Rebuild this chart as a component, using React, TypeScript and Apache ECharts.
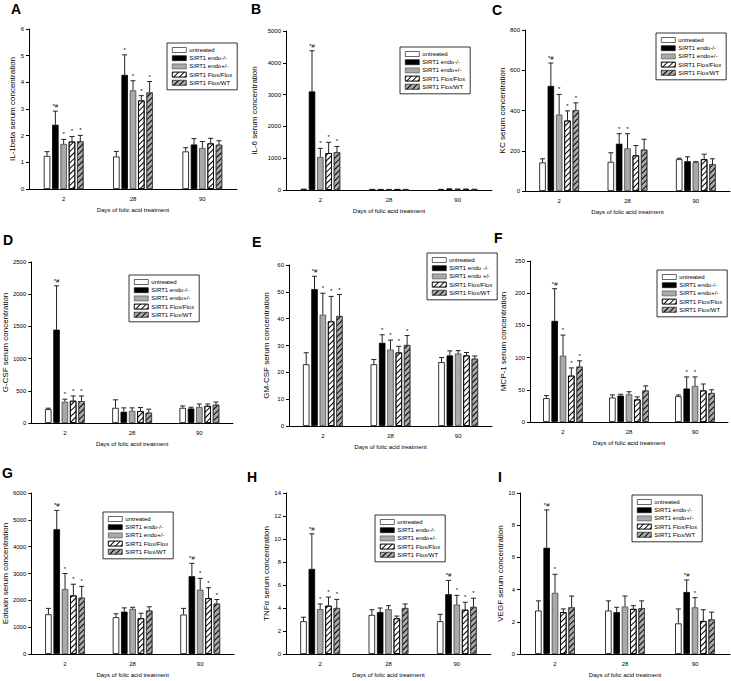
import React, { useEffect, useRef } from "react";
import * as echarts from "echarts";

// ---------- data ----------
const DAYS = ["2", "28", "90"];
const GROUPS = ["untreated", "SIRT1 endo-/-", "SIRT1 endo+/-", "SIRT1 Flox/Flox", "SIRT1 Flox/WT"];
const GROUPS_E = ["untreated", "SIRT1 endo -/-", "SIRT1 endo +/-", "SIRT1 Flox/Flox", "SIRT1 Flox/WT"];

// rows: untreated, endo-/-, endo+/-, Flox/Flox, Flox/WT ; columns: day 2, 28, 90
const IL1B_MEAN = [[1.24, 1.22, 1.41], [2.41, 4.28, 1.67], [1.69, 3.7, 1.54], [1.78, 3.32, 1.71], [1.79, 3.62, 1.66]];
const IL1B_CAP = [[1.4, 1.41, 1.55], [2.92, 5.03, 1.89], [1.86, 4.06, 1.78], [1.97, 3.5, 1.9], [2.01, 4.03, 1.81]];
const IL1B_MARK = [["", "", ""], ["*#", "*", ""], ["*", "*", ""], ["*", "*", ""], ["*", "*", ""]];

const IL6_MEAN = [[20, 15, 15], [3100, 15, 30], [1040, 15, 25], [1160, 15, 25], [1190, 15, 20]];
const IL6_CAP = [[28, 20, 20], [4380, 20, 40], [1310, 20, 32], [1500, 20, 32], [1370, 20, 25]];
const IL6_MARK = [["", "", ""], ["*#", "", ""], ["*", "", ""], ["*", "", ""], ["*", "", ""]];

const KC_MEAN = [[142, 145, 158], [522, 235, 148], [380, 212, 143], [350, 177, 158], [402, 206, 133]];
const KC_CAP = [[160, 190, 163], [636, 285, 170], [480, 285, 146], [398, 226, 183], [438, 257, 160]];
const KC_MARK = [["", "", ""], ["*#", "*", ""], ["*", "*", ""], ["*", "", ""], ["*", "", ""]];

const GCSF_MEAN = [[215, 235, 235], [1450, 175, 225], [330, 190, 250], [345, 185, 265], [340, 160, 285]];
const GCSF_CAP = [[230, 360, 265], [2130, 235, 245], [370, 235, 295], [420, 240, 295], [420, 215, 325]];
const GCSF_MARK = [["", "", ""], ["*#", "", ""], ["*", "", ""], ["*", "", ""], ["*", "", ""]];

const GMCSF_MEAN = [[23, 23, 23.8], [51, 31, 26.3], [41.5, 28.5, 27], [39, 27.4, 26.3], [41, 30.2, 25.1]];
const GMCSF_CAP = [[27.3, 24.8, 25.5], [55.8, 34, 28], [49.5, 32, 28.1], [48.3, 29.7, 27.4], [49, 33.7, 26.1]];
const GMCSF_MARK = [["", "", ""], ["*#", "*", ""], ["*", "*", ""], ["*", "*", ""], ["*", "*", ""]];

const MCP1_MEAN = [[37, 38, 40], [157, 41, 52], [103, 43, 56], [72, 35, 49], [86, 49, 45]];
const MCP1_CAP = [[41, 42, 42], [207, 43, 70], [135, 47, 70], [84, 39, 59], [95, 56, 50]];
const MCP1_MARK = [["", "", ""], ["*#", "", "*"], ["*", "", "*"], ["*", "", ""], ["*", "", ""]];

const EOT_MEAN = [[1480, 1370, 1470], [4650, 1580, 2900], [2420, 1680, 2400], [2180, 1330, 2080], [2100, 1620, 1880]];
const EOT_CAP = [[1700, 1500, 1700], [5350, 1720, 3380], [3000, 1740, 2820], [2600, 1520, 2470], [2520, 1760, 2030]];
const EOT_MARK = [["", "", ""], ["*#", "", "*#"], ["*", "", "*"], ["*", "", "*"], ["*", "", "*"]];

const TNF_MEAN = [[2.85, 3.4, 2.85], [7.4, 3.65, 5.2], [3.9, 3.9, 4.3], [4.2, 3.1, 3.85], [4.0, 4.0, 4.1]];
const TNF_CAP = [[3.2, 3.85, 3.45], [10.45, 4.0, 6.4], [4.35, 4.2, 5.1], [4.95, 3.3, 4.5], [4.75, 4.35, 4.85]];
const TNF_MARK = [["", "", ""], ["*#", "", "*#"], ["*", "", "*"], ["*", "", "*"], ["*", "", "*"]];

const VEGF_MEAN = [[2.7, 2.7, 1.9], [6.6, 2.6, 3.85], [3.8, 2.95, 2.9], [2.6, 2.8, 2.05], [2.9, 2.85, 2.15]];
const VEGF_CAP = [[3.3, 3.3, 2.8], [8.95, 2.9, 4.6], [4.95, 3.6, 3.5], [2.8, 3.0, 2.75], [3.6, 3.3, 2.6]];
const VEGF_MARK = [["", "", ""], ["*#", "", "*#"], ["*", "", "*"], ["", "", ""], ["", "", ""]];

const Y_TITLES = [
  "IL-1beta serum concentration", "IL-6 serum concentration", "KC serum concentration",
  "G-CSF serum concentration", "GM-CSF serum concentration", "MCP-1 serum concentration",
  "Eotaxin serum concentration", "TNFα serum concentration", "VEGF serum concentration",
];
const Y_MAX = [6, 5000, 800, 2500, 60, 250, 6000, 14, 10];
const Y_STEP = [1, 1000, 200, 500, 10, 50, 1000, 2, 2];
const LETTERS = ["A", "B", "C", "D", "E", "F", "G", "H", "I"];
const X_TITLE = "Days of folic acid treatment";

const MEANS = [IL1B_MEAN, IL6_MEAN, KC_MEAN, GCSF_MEAN, GMCSF_MEAN, MCP1_MEAN, EOT_MEAN, TNF_MEAN, VEGF_MEAN];
const CAPS = [IL1B_CAP, IL6_CAP, KC_CAP, GCSF_CAP, GMCSF_CAP, MCP1_CAP, EOT_CAP, TNF_CAP, VEGF_CAP];
const MARKS = [IL1B_MARK, IL6_MARK, KC_MARK, GCSF_MARK, GMCSF_MARK, MCP1_MARK, EOT_MARK, TNF_MARK, VEGF_MARK];

// ---------- layout ----------
const LAYOUT = [
  { l: 29, t: 29, w: 208, h: 160, lgL: 167, lgT: 43, gap: 12, ltX: 11, ltY: 2 },
  { l: 286, t: 31, w: 206, h: 159, lgL: 400, lgT: 47, gap: 28, ltX: 251, ltY: 2 },
  { l: 525, t: 30, w: 205, h: 161, lgL: 656, lgT: 33, gap: 18, ltX: 492, ltY: 3 },
  { l: 29, t: 262, w: 204, h: 161, lgL: 129, lgT: 275, gap: 12, ltX: 3, ltY: 233 },
  { l: 289, t: 265, w: 203, h: 161, lgL: 427, lgT: 253, gap: 19, ltX: 252, ltY: 235 },
  { l: 530, t: 261, w: 198, h: 161, lgL: 657, lgT: 270, gap: 23, ltX: 494, ltY: 231 },
  { l: 30, t: 493, w: 204, h: 161, lgL: 103, lgT: 512, gap: 22, ltX: 2, ltY: 466 },
  { l: 286, t: 493, w: 205, h: 161, lgL: 375, lgT: 515, gap: 16, ltX: 247, ltY: 470 },
  { l: 520, t: 493, w: 210, h: 161, lgL: 632, lgT: 495, gap: 13, ltX: 498, ltY: 470 },
];

const FONT = "Liberation Sans, Arial, Helvetica, sans-serif";
const BAR_W = 6.5;
const BAR_GAP = 0.28;
const STEP = BAR_W * (1 + BAR_GAP);

const hatch = {
  symbol: "rect",
  symbolSize: 1,
  color: "#000",
  dashArrayX: [1, 0],
  dashArrayY: [0.6, 2.8],
  rotation: -Math.PI / 4,
};

const STYLES: any[] = [
  { color: "#ffffff", borderColor: "#000", borderWidth: 0.8 },
  { color: "#000000", borderColor: "#000", borderWidth: 0.8 },
  { color: "#a9a9a9", borderColor: "#444", borderWidth: 0.8 },
  { color: "#ffffff", borderColor: "#000", borderWidth: 0.8, decal: hatch },
  { color: "#a9a9a9", borderColor: "#444", borderWidth: 0.8, decal: hatch },
];

function buildOption() {
  const grid: any[] = [];
  const xAxis: any[] = [];
  const yAxis: any[] = [];
  const legend: any[] = [];
  const title: any[] = [];
  const series: any[] = [];

  LAYOUT.forEach((L, p) => {
    const names = p === 4 ? GROUPS_E : GROUPS;
    grid.push({ left: L.l, top: L.t, width: L.w, height: L.h, containLabel: false });
    xAxis.push({
      type: "category",
      gridIndex: p,
      data: DAYS,
      axisLine: { lineStyle: { color: "#000", width: 1 } },
      axisTick: { alignWithLabel: true, length: 3, lineStyle: { color: "#000" } },
      axisLabel: { fontSize: 6, color: "#000", margin: 7, fontFamily: FONT },
      name: X_TITLE,
      nameLocation: "middle",
      nameGap: 18,
      nameTextStyle: { fontSize: 6, color: "#000", fontFamily: FONT },
    });
    yAxis.push({
      type: "value",
      gridIndex: p,
      min: 0,
      max: Y_MAX[p],
      interval: Y_STEP[p],
      axisLine: { show: true, lineStyle: { color: "#000", width: 1 } },
      axisTick: { show: true, length: 3, lineStyle: { color: "#000" } },
      splitLine: { show: false },
      axisLabel: { fontSize: 6, color: "#000", margin: 5, fontFamily: FONT, formatter: (v: number) => String(v) },
      name: Y_TITLES[p],
      nameLocation: "middle",
      nameGap: L.gap,
      nameTextStyle: { fontSize: 8, color: "#000", fontFamily: FONT },
    });
    legend.push({
      data: names,
      left: L.lgL,
      top: L.lgT,
      orient: "vertical",
      icon: "rect",
      itemWidth: 14,
      itemHeight: 5,
      itemGap: 2.2,
      padding: [4, 5, 4, 5],
      borderColor: "#000",
      borderWidth: 0.8,
      backgroundColor: "#fff",
      selectedMode: false,
      itemStyle: { borderWidth: 0.6 },
      textStyle: { fontSize: 6, color: "#000", fontFamily: FONT, padding: [0, 0, 0, -2] },
    });
    title.push({
      text: LETTERS[p],
      left: L.ltX,
      top: L.ltY,
      padding: 0,
      textStyle: { fontSize: 14, fontWeight: "bold", color: "#000", fontFamily: FONT },
    });

    const mean = MEANS[p];
    const caps = CAPS[p];
    const marks = MARKS[p];
    for (let s = 0; s < 5; s++) {
      series.push({
        type: "bar",
        name: names[s],
        xAxisIndex: p,
        yAxisIndex: p,
        data: mean[s],
        barWidth: BAR_W,
        barGap: BAR_GAP * 100 + "%",
        itemStyle: STYLES[s],
        emphasis: { disabled: true },
        z: 2,
      });
    }
    for (let s = 0; s < 5; s++) {
      const sIdx = s;
      series.push({
        type: "custom",
        xAxisIndex: p,
        yAxisIndex: p,
        z: 5,
        silent: true,
        data: caps[s].map((c, i) => [i, c]),
        renderItem: (params: any, api: any) => {
          const ci = api.value(0);
          const capV = api.value(1);
          const m = mean[sIdx][params.dataIndex];
          const capPt = api.coord([ci, capV]);
          const basePt = api.coord([ci, m]);
          const x = capPt[0] + (sIdx - 2) * STEP;
          const ly = capPt[1];
          const lineColor = "#222";
          const children: any[] = [
            { type: "line", shape: { x1: x, y1: basePt[1], x2: x, y2: ly }, style: { stroke: lineColor, lineWidth: 1 } },
            { type: "line", shape: { x1: x - 2.5, y1: ly, x2: x + 2.5, y2: ly }, style: { stroke: lineColor, lineWidth: 1 } },
          ];
          const mk = marks[sIdx][params.dataIndex];
          if (mk) {
            children.push({
              type: "text",
              x: x,
              y: ly - 2,
              style: { text: mk, fontSize: 6, fill: "#000", align: "center", verticalAlign: "bottom", fontFamily: FONT },
            });
          }
          return { type: "group", children };
        },
      });
    }
  });

  return {
    animation: false,
    backgroundColor: "#ffffff",
    textStyle: { fontFamily: FONT },
    title,
    grid,
    xAxis,
    yAxis,
    legend,
    series,
  };
}

export default function App() {
  const ref = useRef<HTMLDivElement>(null);
  useEffect(() => {
    if (!ref.current) return;
    const chart = echarts.init(ref.current, null, { renderer: "svg" });
    chart.setOption(buildOption() as any);
    return () => chart.dispose();
  }, []);
  return (
    <div
      ref={ref}
      style={{ position: "fixed", left: 0, top: 0, width: 731, height: 681, background: "#fff" }}
    />
  );
}
